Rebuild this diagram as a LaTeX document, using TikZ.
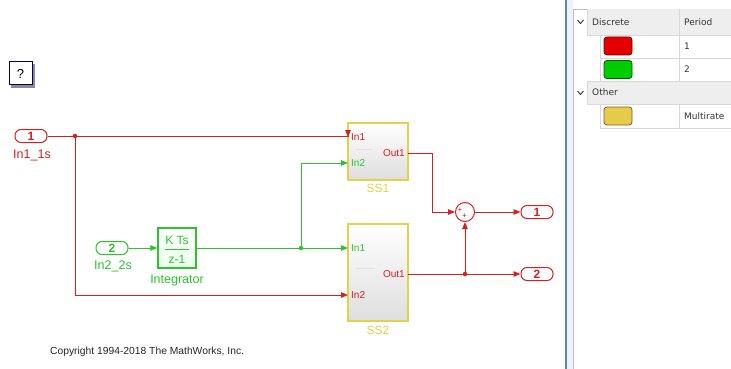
\documentclass[tikz,border=0pt]{standalone}
\usepackage{fontspec}
\setmainfont{Liberation Sans}
\newfontfamily\tablefont{DejaVu Sans}
\usetikzlibrary{arrows.meta}
\definecolor{slred}{HTML}{D91E1E}
\definecolor{slgreen}{HTML}{2BC42B}
\definecolor{slyellow}{HTML}{E6CF4A}
\definecolor{divblue}{HTML}{5F84A8}
\definecolor{hdrgray}{HTML}{EEEEEE}
\definecolor{gridgray}{HTML}{D8D8D8}
\definecolor{txtgray}{HTML}{333333}
\tikzset{
  wire/.style={line width=0.9pt},
  arr/.style={wire,-{Triangle[length=7pt,width=5.5pt]}},
  pill/.style={draw,line width=1pt,rounded corners=6pt,fill=white,minimum width=32pt,minimum height=13pt,inner sep=0pt,font=\fontsize{12}{12}\selectfont\bfseries},
  blklabel/.style={font=\fontsize{12.5}{12.5}\selectfont,inner sep=0pt},
  portlbl/.style={font=\fontsize{10}{10}\selectfont,inner sep=0pt},
  subsys/.style={draw=slyellow,line width=1.2pt,top color=white,bottom color=black!13,inner sep=0pt},
  ssname/.style={font=\fontsize{12}{12}\selectfont,text=slyellow,inner sep=0pt},
  dot/.style={circle,fill,inner sep=0pt,minimum size=4.5pt},
  swatch/.style={rounded corners=3pt,line width=0.8pt,minimum width=28pt,minimum height=18pt,inner sep=0pt},
  tbltxt/.style={font=\tablefont\fontsize{9}{9}\selectfont,text=txtgray,inner sep=0pt,anchor=west},
  chev/.style={line width=0.9pt,draw=txtgray},
}
\begin{document}
\begin{tikzpicture}[x=1pt,y=-1pt]
\path[use as bounding box,fill=white] (0,0) rectangle (731,369);

% help box
\fill[black!45] (11,64) rectangle (35,88);
\node[draw=blue!40!black,line width=1pt,fill=white,minimum width=23pt,minimum height=23pt,inner sep=0pt,font=\fontsize{13}{13}\selectfont] (help) at (20.5,73.5) {?};

% inports
\node[pill,draw=slred,text=slred] (in1) at (31,136) {1};
\node[blklabel,text=slred] (in1lbl) at (32,155) {In1\_1s};
\node[pill,draw=slgreen,text=slgreen] (in2) at (112,248) {2};
\node[blklabel,text=slgreen] (in2lbl) at (113,266) {In2\_2s};

% integrator
\node[draw=slgreen,line width=1.2pt,top color=white,bottom color=green!7,minimum width=38pt,minimum height=40pt,inner sep=0pt] (integ) at (177,248) {};
\node[font=\fontsize{12}{12}\selectfont,text=slgreen,inner sep=0pt] (kts) at (177,240) {K Ts};
\node[font=\fontsize{12}{12}\selectfont,text=slgreen,inner sep=0pt] (zm1) at (177,259) {z-1};
\draw[slgreen,line width=0.8pt] (165,249) -- (189,249);
\node[blklabel,text=slgreen] (integlbl) at (177,280) {Integrator};

% subsystems
\node[subsys,minimum width=60pt,minimum height=57pt] (ss1) at (378,151.5) {};
\node[subsys,minimum width=60pt,minimum height=97pt] (ss2) at (378,272.5) {};
\node[ssname] (ss1lbl) at (378,188) {SS1};
\node[ssname] (ss2lbl) at (378,330) {SS2};
\coordinate (ss1p1) at (348,137);
\coordinate (ss1p2) at (348,163);
\coordinate (ss1o) at (408,153);
\coordinate (ss2p1) at (348,248);
\coordinate (ss2p2) at (348,295);
\coordinate (ss2o) at (408,274);
\node[portlbl,anchor=west,text=slred] (l11) at (351,137) {In1};
\node[portlbl,anchor=west,text=slgreen] (l12) at (351,163) {In2};
\node[portlbl,anchor=east,text=slred] (l13) at (405,153) {Out1};
\node[portlbl,anchor=west,text=slgreen] (l21) at (351,248) {In1};
\node[portlbl,anchor=west,text=slred] (l22) at (351,295) {In2};
\node[portlbl,anchor=east,text=slred] (l23) at (405,274) {Out1};
\draw[black!12,line width=0.6pt] (356,149) -- (372,149);
\draw[black!12,line width=0.6pt] (356,268) -- (375,268);

% sum
\node[draw=slred,circle,line width=1pt,fill=white,minimum size=19pt,inner sep=0pt] (sum) at (465,212) {};
\node[font=\fontsize{8}{8}\selectfont,text=slred,inner sep=0pt] (pl1) at (460,210.5) {+};
\node[font=\fontsize{8}{8}\selectfont,text=slred,inner sep=0pt] (pl2) at (464.5,216) {+};

% outports
\node[pill,draw=slred,text=slred] (out1) at (537,212) {1};
\node[pill,draw=slred,text=slred] (out2) at (537,274) {2};

% red wires
\coordinate (b1) at (75,136);
\draw[arr,slred] (in1.east) -- (ss1p1 |- in1.east) -- (ss1p1);
\draw[arr,slred] (b1) |- (ss2p2);
\node[dot,slred] (d1) at (b1) {};
\coordinate (k1) at (432,153);
\draw[arr,slred] (ss1o) -- (k1) |- (sum.west);
\draw[arr,slred] (sum.east) -- (out1.west);
\draw[arr,slred] (ss2o) -- (out2.west);
\coordinate (b3) at (465,274);
\draw[arr,slred] (b3) -- (sum.south);
\node[dot,slred] (d3) at (b3) {};

% green wires
\draw[arr,slgreen] (in2.east) -- (integ.west);
\draw[arr,slgreen] (integ.east) -- (ss2p1);
\coordinate (b2) at (301,248);
\draw[arr,slgreen] (b2) |- (ss1p2);
\node[dot,slgreen] (d2) at (b2) {};

% copyright
\node[font=\fontsize{10.3}{11}\selectfont,text=black!85,inner sep=0pt,anchor=west] (copy) at (50,352) {Copyright 1994-2018 The MathWorks, Inc.};

% divider and panel
\fill[blue!6] (567,0) rectangle (573,369);
\draw[divblue,line width=2.2pt] (566,0) -- (566,369);
\draw[black!25,line width=0.7pt] (573.5,369) -- (573.5,9) -- (731,9);
% header rows
\fill[hdrgray] (587,9.5) rectangle (731,35);
\fill[hdrgray] (587,81) rectangle (731,104);
\draw[gridgray,line width=0.7pt] (587,35) -- (731,35);
\draw[gridgray,line width=0.7pt] (600,58) -- (731,58);
\draw[gridgray,line width=0.7pt] (587,81) -- (731,81);
\draw[gridgray,line width=0.7pt] (587,104) -- (731,104);
\draw[gridgray,line width=0.7pt] (600,128) -- (731,128);
\draw[gridgray,line width=0.7pt] (600,35) -- (600,81);
\draw[gridgray,line width=0.7pt] (600,104) -- (600,128);
\draw[gridgray,line width=0.7pt] (587,9.5) -- (587,35);
\draw[gridgray,line width=0.7pt] (587,81) -- (587,104);
\draw[gridgray,line width=0.7pt] (679.5,9.5) -- (679.5,81);
\draw[gridgray,line width=0.7pt] (679.5,104) -- (679.5,128);
\draw[chev] (577.5,20) -- (580.5,23.5) -- (583.5,20);
\draw[chev] (577.5,91) -- (580.5,94.5) -- (583.5,91);
\node[tbltxt] (hd) at (592,22) {Discrete};
\node[tbltxt] (hp) at (684,22) {Period};
\node[tbltxt] (ho) at (592,92) {Other};
\node[swatch,fill=red!90!black,draw=red!45!black] (sw1) at (618,46) {};
\node[swatch,fill=green!80!black,draw=green!35!black] (sw2) at (618,69.5) {};
\node[swatch,fill=slyellow!95!brown,draw=brown!70!black] (sw3) at (618,116) {};
\node[tbltxt] (p1) at (684,46) {1};
\node[tbltxt] (p2) at (684,69.5) {2};
\node[tbltxt] (p3) at (684,116) {Multirate};
\end{tikzpicture}
\end{document}
